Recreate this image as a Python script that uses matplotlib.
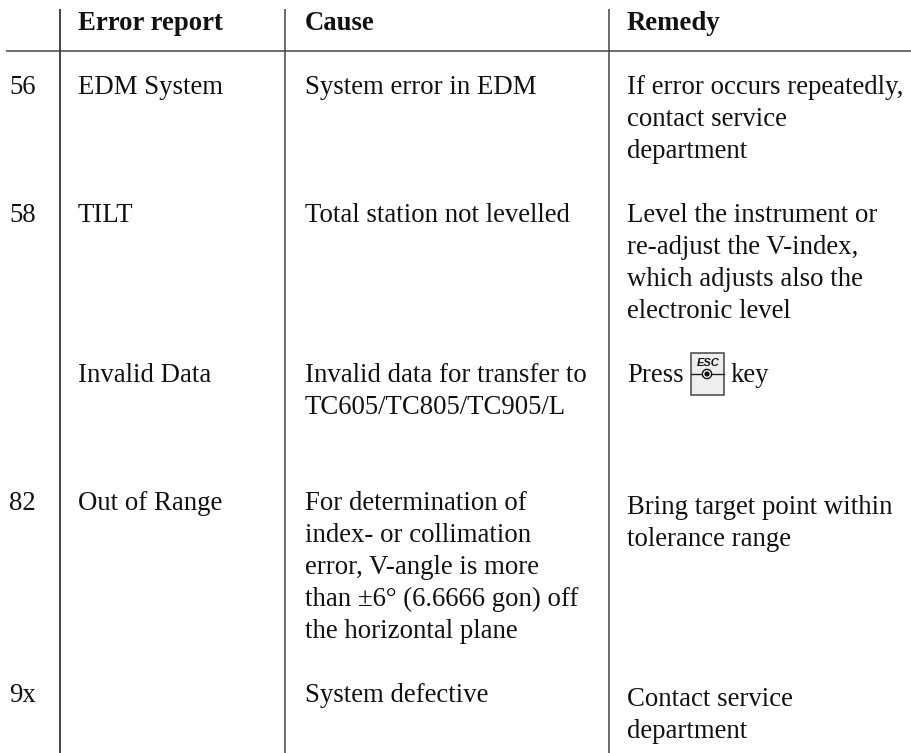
import matplotlib
matplotlib.use("Agg")
import matplotlib.pyplot as plt
from matplotlib.patches import Rectangle, Circle

plt.rcParams['font.family'] = ['Liberation Serif', 'DejaVu Serif']

# Table content
headers = ["Error report", "Cause", "Remedy"]
numbers = ["56", "58", "82", "9x"]
reports = ["EDM System", "TILT", "Invalid Data", "Out of Range"]
causes = [
    "System error in EDM",
    "Total station not levelled",
    "Invalid data for transfer to\nTC605/TC805/TC905/L",
    "For determination of\nindex- or collimation\nerror, V-angle is more\nthan ±6° (6.6666 gon) off\nthe horizontal plane",
    "System defective",
]
remedies = [
    "If error occurs repeatedly,\ncontact service\ndepartment",
    "Level the instrument or\nre-adjust the V-index,\nwhich adjusts also the\nelectronic level",
    "Bring target point within\ntolerance range",
    "Contact service\ndepartment",
]

W, H = 912, 753
FS = 19.3
LH = 32

fig = plt.figure(figsize=(W / 100, H / 100), dpi=100)
ax = fig.add_axes([0, 0, 1, 1])
ax.set_xlim(0, W)
ax.set_ylim(H, 0)
ax.axis('off')


def put(x, y, s, **kw):
    # y is the baseline of the first line
    for i, line in enumerate(s.split("\n")):
        ax.text(x, y + i * LH, line, fontsize=FS, va='baseline', ha='left',
                color='#111111', **kw)


# Rules
for x, c in [(60.5, '#111111'), (285, '#444444'), (609.5, '#444444')]:
    ax.plot([x, x], [9, H], color=c, lw=1.1, solid_capstyle='butt')
ax.plot([6, W], [51, 51], color='#444444', lw=1.1, solid_capstyle='butt')

# Header
put(78, 30, headers[0], fontweight='bold')
put(305, 30, headers[1], fontweight='bold')
put(627, 30, headers[2], fontweight='bold')

# First column
for y, s in zip([93.5, 222, 510, 702], numbers):
    put(9, y, s)

# Error reports
for y, s in zip([93.5, 222, 382, 510], reports):
    put(78, y, s)

# Causes
for y, s in zip([93.5, 222, 382, 510, 702], causes):
    put(305, y, s)

# Remedies
for y, s in zip([93.5, 222, 514, 706], remedies):
    put(627, y, s)

# Press ESC key
put(627, 382, "Press")
put(730, 382, "key")
ax.add_patch(Rectangle((691, 353), 33, 42, facecolor='#eeeeee', edgecolor='#444444', lw=1.1))
ax.plot([691, 724], [374, 374], color='#222222', lw=1.0)
ax.add_patch(Circle((707, 374), 4.6, facecolor='white', edgecolor='#111111', lw=1.0, zorder=3))
ax.add_patch(Circle((707, 374), 2.6, facecolor='#111111', edgecolor='none', zorder=4))
ax.text(708, 363, "ESC", fontsize=8, fontweight='bold', style='italic', family='Liberation Sans',
        ha='center', va='center', color='#111111')

fig.savefig("out.png", dpi=100)
